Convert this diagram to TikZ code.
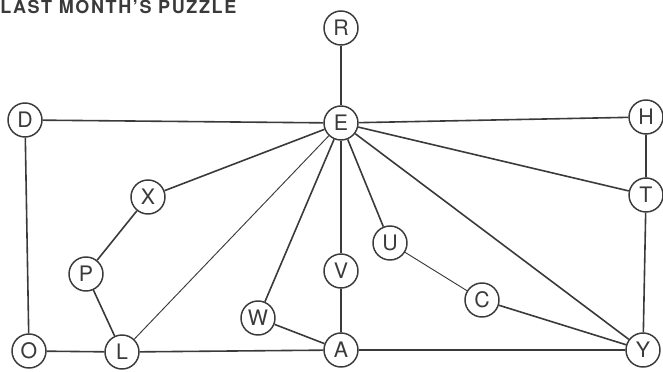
\documentclass[tikz,border=0pt]{standalone}
\usepackage{fontspec}
\setmainfont{TeX Gyre Heros}
\usepackage{tikz}
\definecolor{puzzink}{HTML}{3A3A3A}
\tikzset{
  letter/.style={circle,draw=puzzink,line width=1.1pt,minimum size=25.5pt,inner sep=0pt,
    text=puzzink,font=\fontsize{16}{16}\selectfont},
  link/.style={puzzink,line width=1.2pt},
  thinlink/.style={puzzink,line width=0.7pt}
}

\begin{document}
\begin{tikzpicture}[x=0.75pt,y=-0.75pt]
    \useasboundingbox (0,0) rectangle (663,371);
    \node[anchor=base west,inner sep=0pt,text=puzzink,font=\bfseries\fontsize{13.5}{14}\selectfont\addfontfeature{LetterSpace=9}] (title) at (0,13) {LAST MONTH'S PUZZLE};
    \node[letter] (R) at (341,28) {R};
    \node[letter] (E) at (341,123) {E};
    \node[letter] (D) at (25,120) {D};
    \node[letter] (H) at (646,117) {H};
    \node[letter] (T) at (646,195) {T};
    \node[letter] (X) at (148,197) {X};
    \node[letter] (U) at (390,243) {U};
    \node[letter] (V) at (341,271) {V};
    \node[letter] (P) at (86,274) {P};
    \node[letter] (C) at (482,300) {C};
    \node[letter] (W) at (258,318) {W};
    \node[letter] (O) at (29,351) {O};
    \node[letter] (L) at (122,352) {L};
    \node[letter] (A) at (341,350) {A};
    \node[letter] (Y) at (643,350) {Y};
    % outer frame
    \draw[link] (D) -- (E) -- (H) -- (T) -- (Y) -- (A) -- (L) -- (O) -- (D);
    \draw[link] (R) -- (E);
    % spokes from E
    \foreach \n in {X,W,V,U,Y,T} \draw[link] (E) -- (\n);
    \draw[thinlink] (E) -- (L);
    % inner paths
    \draw[link] (X) -- (P) -- (L);
    \draw[link] (W) -- (A) -- (V);
    \draw[thinlink] (U) -- (C);
    \draw[link] (C) -- (Y);
\end{tikzpicture}
\end{document}
